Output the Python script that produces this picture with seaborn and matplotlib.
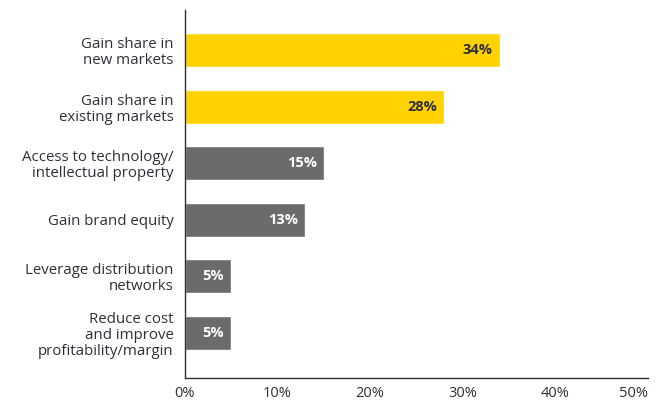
import matplotlib
matplotlib.use("Agg")
import matplotlib.pyplot as plt
import seaborn as sns
import pandas as pd

categories = [
    "Gain share in\nnew markets",
    "Gain share in\nexisting markets",
    "Access to technology/\nintellectual property",
    "Gain brand equity",
    "Leverage distribution\nnetworks",
    "Reduce cost\nand improve\nprofitability/margin",
]
values = [34, 28, 15, 13, 5, 5]
highlight = [True, True, False, False, False, False]
x_ticks = [0, 10, 20, 30, 40, 50]
x_tick_labels = ["0%", "10%", "20%", "30%", "40%", "50%"]

YELLOW = "#FFD200"
GREY = "#6B6B6D"
DARK = "#2E2E38"

sns.set_theme(style="white")
plt.rcParams["font.family"] = ["Open Sans", "DejaVu Sans"]

df = pd.DataFrame({"category": categories, "value": values})
colors = [YELLOW if h else GREY for h in highlight]

fig = plt.figure(figsize=(6.6, 4.04), dpi=100)
ax = fig.add_axes([0.280, 0.064, 0.702, 0.911])

sns.barplot(data=df, y="category", x="value", hue="category",
            palette=colors, legend=False, width=0.6, saturation=1,
            ax=ax, orient="h")

for patch, val, h in zip(ax.patches, values, highlight):
    y = patch.get_y() + patch.get_height() / 2
    ax.text(val - 0.75, y, f"{val}%", ha="right", va="center",
            fontsize=10.5, fontweight="bold",
            color=DARK if h else "white")

ax.set_xlim(0, 50)
ax.set_ylim(5.8, -0.71)
ax.set_xticks(x_ticks)
ax.set_xticklabels(x_tick_labels, fontsize=10.5, color=DARK)
# keep the last tick label inside the figure
ax.get_xticklabels()[-1].set_horizontalalignment("right")
ax.tick_params(axis="x", direction="in", length=4, width=1, color=DARK, pad=6)
ax.tick_params(axis="y", length=0, pad=8, labelsize=10.8, labelcolor=DARK)
for lbl in ax.get_yticklabels():
    lbl.set_horizontalalignment("right")
    lbl.set_multialignment("right")
    lbl.set_linespacing(1.1)
    lbl.set_fontweight("medium")

ax.set_xlabel("")
ax.set_ylabel("")
for side in ("top", "right"):
    ax.spines[side].set_visible(False)
for side in ("left", "bottom"):
    ax.spines[side].set_color(DARK)
    ax.spines[side].set_linewidth(1)

fig.savefig("out.png", dpi=100)
